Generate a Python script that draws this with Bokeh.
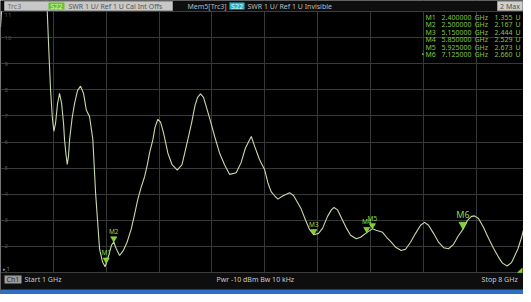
from bokeh.plotting import figure
from bokeh.models import Range1d, FixedTicker, Label, BoxAnnotation
from bokeh.core.properties import value
from bokeh.embed import file_html
from bokeh.resources import INLINE
import math

# ---------------- data ----------------
freq_ghz = [1.000, 1.014, 1.05, 1.30, 1.50, 1.59,
            1.619, 1.640, 1.663, 1.687, 1.707, 1.729, 1.756, 1.782, 1.809, 1.835,
            1.848, 1.868, 1.884, 1.901, 1.915, 1.948, 1.981, 2.021, 2.060, 2.100,
            2.136, 2.179, 2.223, 2.259, 2.312, 2.352, 2.385, 2.400, 2.438, 2.470,
            2.500, 2.530, 2.577, 2.630, 2.676, 2.732, 2.775, 2.819, 2.861, 2.908,
            2.945, 2.974, 3.018, 3.047, 3.084, 3.120, 3.160, 3.216, 3.272, 3.341,
            3.404, 3.481, 3.530, 3.577, 3.610, 3.649, 3.689, 3.742, 3.788, 3.835,
            3.901, 3.967, 4.033, 4.122, 4.185, 4.244, 4.321, 4.365, 4.431, 4.497,
            4.541, 4.583, 4.630, 4.674, 4.736, 4.828, 4.881, 4.934, 4.983, 5.040,
            5.093, 5.150, 5.212, 5.265, 5.331, 5.384, 5.417, 5.463, 5.530, 5.583,
            5.636, 5.711, 5.768, 5.850, 5.925, 5.975, 6.060, 6.113, 6.175, 6.232,
            6.307, 6.364, 6.430, 6.497, 6.563, 6.616, 6.669, 6.735, 6.801, 6.868,
            6.934, 7.000, 7.060, 7.125, 7.184, 7.237, 7.277, 7.330, 7.396, 7.463,
            7.529, 7.595, 7.648, 7.708, 7.768, 7.852, 7.901, 7.940, 8.000]
swr = [10.40, 11.02, 12.5, 15.0, 14.0, 12.0,
       11.03, 9.50, 7.99, 6.91, 6.41, 6.72, 7.48, 7.86, 7.48, 6.72,
       6.09, 5.51, 5.14, 5.47, 6.09, 6.91, 7.48, 7.98, 8.14, 7.86,
       7.23, 6.98, 6.09, 4.06, 1.90, 1.40, 1.22, 1.355, 1.70, 2.05,
       2.167, 1.93, 1.65, 1.86, 2.16, 2.67, 3.22, 3.81, 4.25, 4.67,
       5.13, 5.58, 6.09, 6.57, 6.87, 6.76, 6.34, 5.58, 5.13, 4.92,
       5.13, 6.09, 6.72, 7.41, 7.71, 7.84, 7.71, 7.18, 6.72, 6.22,
       5.58, 5.13, 4.76, 4.82, 5.20, 5.77, 6.21, 5.84, 5.32, 4.95,
       4.44, 4.10, 3.94, 3.81, 3.93, 4.06, 3.95, 3.68, 3.43, 3.00,
       2.65, 2.444, 2.50, 2.69, 3.15, 3.41, 3.49, 3.40, 3.00, 2.69,
       2.43, 2.29, 2.35, 2.529, 2.673, 2.62, 2.54, 2.35, 2.16, 1.97,
       1.84, 1.89, 2.16, 2.50, 2.81, 2.92, 2.81, 2.50, 2.16, 1.95,
       1.91, 2.08, 2.39, 2.660, 3.00, 3.15, 3.17, 3.07, 2.73, 2.31,
       1.93, 1.59, 1.36, 1.25, 1.38, 1.90, 2.35, 2.79, 3.30]

marker_names = ["M1", "M2", "M3", "M4", "M5", "M6"]
marker_freq = [2.400, 2.500, 5.150, 5.850, 5.925, 7.125]
marker_swr = [1.355, 2.167, 2.444, 2.529, 2.673, 2.660]
active_marker = "M6"

y_ticks = [1, 2, 3, 4, 5, 6, 7, 8, 9, 10, 11]
x_ticks = [1.0, 1.7, 2.4, 3.1, 3.8, 4.5, 5.2, 5.9, 6.6, 7.3, 8.0]

start_ghz, stop_ghz = 1, 8

# ---------------- layout ----------------
W, H = 523, 294
TOP, BOTTOM = 11, 22          # header / footer heights in px
FB = H - BOTTOM               # bottom of the diagram, canvas px
PX_PER_U = (H - TOP - BOTTOM) / (y_ticks[-1] - y_ticks[0])
PX_PER_GHZ = 75.51
FONT = "Noto Sans"
BORDER = "#0e0e0e"

x_end = start_ghz + W / PX_PER_GHZ
p = figure(width=W, height=H, output_backend="svg", toolbar_location=None,
           title=None,
           x_range=Range1d(start_ghz, x_end),
           y_range=Range1d(y_ticks[0] - BOTTOM / PX_PER_U, y_ticks[-1] + TOP / PX_PER_U),
           x_axis_location=None, y_axis_location=None,
           min_border=0,
           background_fill_color="#000000", border_fill_color=BORDER,
           outline_line_color=None)

p.xgrid.ticker = FixedTicker(ticks=x_ticks)
p.ygrid.ticker = FixedTicker(ticks=y_ticks)
p.grid.grid_line_color = "#383838"
p.grid.grid_line_width = 1

# y scale labels inside the diagram
p.text(x=[start_ghz] * (len(y_ticks) - 1), y=y_ticks[:-1],
       text=[str(v) for v in y_ticks[:-1]], x_offset=4,
       text_font=value(FONT), text_font_size="6px", text_color="#555555",
       text_baseline="middle", text_align="left")
p.text(x=[start_ghz], y=[y_ticks[-1]], text=[str(y_ticks[-1])], x_offset=4, y_offset=1,
       text_font=value(FONT), text_font_size="6px", text_color="#555555",
       text_baseline="top", text_align="left")

# trace
p.line(freq_ghz, swr, line_color="#c8d9aa", line_width=1.1)

# markers (down triangles whose tip sits on the point)
def tip_offset(size):
    h = size / 2 * math.sqrt(3)
    return (2 * h / 3) / PX_PER_U

norm = [i for i, n in enumerate(marker_names) if n != active_marker]
act = [i for i, n in enumerate(marker_names) if n == active_marker]
for idx, size, fsize in ((norm, 6, "6.5px"), (act, 8, "9px")):
    fx = [marker_freq[i] for i in idx]
    fy = [marker_swr[i] for i in idx]
    p.scatter(fx, [v + tip_offset(size) for v in fy], marker="inverted_triangle",
              size=size, fill_color="#7fd12e", line_color="#a8ec5c", line_width=0.6)
    p.text(fx, fy, text=[marker_names[i] for i in idx],
           y_offset=-(size / 2 * math.sqrt(3) + 1),
           text_font=value(FONT), text_font_size=fsize, text_color="#8ed84a",
           text_baseline="bottom", text_align="center")

# ---------------- header / footer (canvas pixel positions) ----------------

def lbl(cx, cy, text, color, size="7px", align="left"):
    p.add_layout(Label(x=cx, y=H - cy, x_units="screen", y_units="screen",
                       text=text, text_color=color, text_font=FONT,
                       text_font_size=size, text_align=align, text_baseline="middle",
                       level="overlay"))


def box(x0, y0, x1, y1, fill, line=None):
    p.add_layout(BoxAnnotation(left=x0, right=x1, top=H - y0, bottom=H - y1,
                               left_units="screen", right_units="screen",
                               top_units="screen", bottom_units="screen",
                               fill_color=fill, fill_alpha=1.0,
                               line_color=line, line_alpha=1.0 if line else 0,
                               level="annotation"))

# bands that hide what lies outside the diagram
box(0, 0, W, TOP - 0.5, BORDER)
box(0, FB + 0.5, W, H, BORDER)
# diagram outline
p.add_layout(BoxAnnotation(left=start_ghz, right=stop_ghz, top=y_ticks[-1], bottom=y_ticks[0],
                           fill_alpha=0, line_color="#4a4a4a", line_width=1,
                           level="annotation"))

# top header
box(4, 1, 172, 10, "#c8c8c8", "#9a9a9a")
lbl(7, 5.5, "Trc3", "#6a6a6a")
box(48, 2, 64, 9, "#6cc22a")
lbl(56, 5.5, "S22", "#d9ffb4", align="center")
lbl(68, 5.5, "SWR  1 U/ Ref 1 U   Cal Int Offs", "#555555")
lbl(187, 5.5, "Mem5[Trc3]", "#b8b8b8")
box(229, 2, 244, 9, "#22b8cc")
lbl(236.5, 5.5, "S22", "#d6f8ff", align="center")
lbl(247, 5.5, "SWR  1 U/ Ref 1 U   Invisible", "#bdbdbd")
box(497, 1, 522, 10, "#cfcfcf", "#9a9a9a")
lbl(509.5, 5.5, "2 Max", "#505050", align="center")

# marker table
for k, name in enumerate(marker_names):
    cy = 16.8 + k * 7.5
    col = "#86c440"
    if name == active_marker:
        lbl(421, cy, "\u2022", col)
    lbl(425, cy, name, col)
    lbl(471, cy, f"{marker_freq[k]:.6f}", col, align="right")
    lbl(474, cy, "GHz", col)
    lbl(512, cy, f"{marker_swr[k]:.3f}", col, align="right")
    lbl(515, cy, "U", col)

# reference level indicators
lbl(2, 268.5, "\u25b8 1", "#9a9a9a", size="5px")
lbl(519, 269, "\u25e2", "#7fd12e", size="7px", align="center")

# bottom bar
box(4, 275, 21, 283, "#9c9c9c")
lbl(12.5, 279, "Ch1", "#2a2a2a", align="center")
lbl(24, 279, f"Start  {start_ghz} GHz", "#c8c8c8")
lbl(216, 279, "Pwr  -10 dBm   Bw  10 kHz", "#c8c8c8")
lbl(519, 279, f"Stop  {stop_ghz} GHz", "#c8c8c8", align="right")
box(0, 289, W, H, "#2f6fc4")

open("out.html", "w").write(file_html(p, INLINE))
